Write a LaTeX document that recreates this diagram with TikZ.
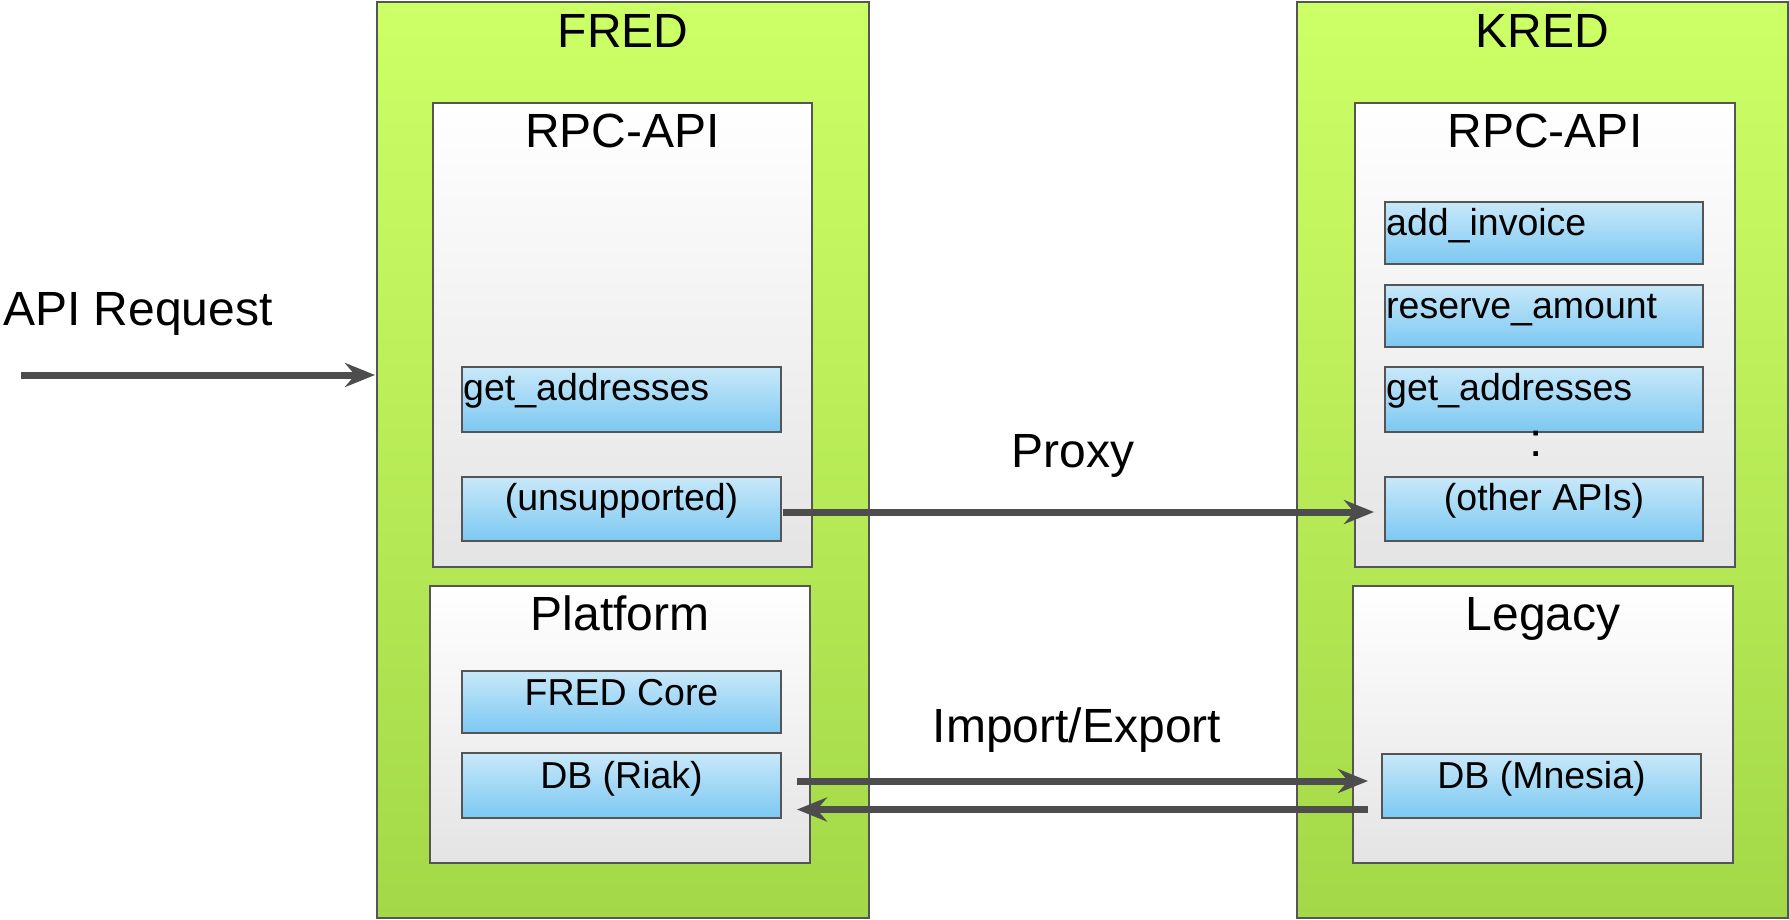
\documentclass[tikz,border=0pt]{standalone}
\usepackage{fontspec}
\setmainfont{Liberation Sans}
\usetikzlibrary{arrows.meta,calc}

\definecolor{limeTop}{RGB}{205,255,102}
\definecolor{limeBot}{RGB}{163,216,72}
\definecolor{greyTop}{RGB}{255,255,255}
\definecolor{greyBot}{RGB}{228,228,228}
\definecolor{blueTop}{RGB}{200,232,249}
\definecolor{blueBot}{RGB}{124,200,242}
\definecolor{edge}{RGB}{85,85,85}
\definecolor{wire}{RGB}{77,77,77}

\tikzset{
  box/.style={draw=edge, line width=2pt, inner sep=0pt, outer sep=0pt,
              anchor=north west, rectangle},
  system/.style={box, top color=limeTop, bottom color=limeBot},
  layer/.style={box, top color=greyTop, bottom color=greyBot},
  func/.style={box, top color=blueTop, bottom color=blueBot},
  big/.style={inner sep=0pt, anchor=base, font=\fontsize{48pt}{58pt}\selectfont},
  small/.style={inner sep=0pt, anchor=base, font=\fontsize{37.5pt}{45pt}\selectfont},
  smallleft/.style={small, anchor=base west},
  flow/.style={draw=wire, line width=7pt,
               -{Stealth[length=30pt, width=24pt, inset=10pt]}},
}

\begin{document}
\begin{tikzpicture}[x=1pt, y=-1pt]
\useasboundingbox (0,0) rectangle (1789,919);

% systems
\node[system, minimum width=492pt, minimum height=916pt] (fred) at (377,2) {};
\node[system, minimum width=491pt, minimum height=916pt] (kred) at (1297,2) {};
\node[big] (fredT) at (623,47) {FRED};
\node[big] (kredT) at (1542,47) {KRED};

% layers
\node[layer, minimum width=379pt, minimum height=464pt] (frpc) at (433,103) {};
\node[layer, minimum width=380pt, minimum height=277pt] (fplat) at (430,586) {};
\node[layer, minimum width=380pt, minimum height=464pt] (krpc) at (1355,103) {};
\node[layer, minimum width=380pt, minimum height=277pt] (kleg) at (1353,586) {};
\node[big] (frpcT) at (622.5,147) {RPC-API};
\node[big] (fplatT) at (620,630) {Platform};
\node[big] (krpcT) at (1545,147) {RPC-API};
\node[big] (klegT) at (1543,630) {Legacy};

% FRED functions
\node[func, minimum width=319pt, minimum height=65pt] (fget) at (462,367) {};
\node[func, minimum width=319pt, minimum height=64pt] (funsup) at (462,477) {};
\node[func, minimum width=319pt, minimum height=62pt] (fcore) at (462,671) {};
\node[func, minimum width=319pt, minimum height=65pt] (friak) at (462,753) {};
\node[smallleft] (fgetT) at (463,400) {get\_addresses};
\node[small] (funsupT) at (621.5,510) {(unsupported)};
\node[small] (fcoreT) at (621.5,705) {FRED Core};
\node[small] (friakT) at (621.5,788) {DB (Riak)};

% KRED functions
\node[func, minimum width=318pt, minimum height=62pt] (kadd) at (1385,202) {};
\node[func, minimum width=318pt, minimum height=62pt] (kres) at (1385,285) {};
\node[func, minimum width=318pt, minimum height=65pt] (kget) at (1385,367) {};
\node[func, minimum width=318pt, minimum height=64pt] (kother) at (1385,477) {};
\node[func, minimum width=319pt, minimum height=64pt] (kmnesia) at (1382,754) {};
\node[smallleft] (kaddT) at (1386,235) {add\_invoice};
\node[smallleft] (kresT) at (1386,318) {reserve\_amount};
\node[smallleft] (kgetT) at (1386,400) {get\_addresses};
\node[big] (kdots) at (1536,456) {:};
\node[small] (kotherT) at (1544,510) {(other APIs)};
\node[small] (kmnesiaT) at (1541.5,788) {DB (Mnesia)};

% connector labels
\node[big, anchor=base west] (reqT) at (3,325) {API Request};
\node[big] (proxyT) at (1073,467) {Proxy};
\node[big] (ieT) at (1077,742) {Import/Export};

% connectors
\coordinate (req) at (21,375);
\draw[flow, shorten >=2pt] (req) -- (req -| fred.west);
\draw[flow, shorten <=2pt, shorten >=11pt]
  ([yshift=-3pt]funsup.east) -- ([yshift=-3pt]funsup.east -| kother.west);
\draw[flow, shorten <=16pt, shorten >=14pt]
  ([yshift=4.5pt]friak.east) -- ([yshift=4.5pt]friak.east -| kmnesia.west);
\draw[flow, shorten <=14pt, shorten >=16pt]
  ([yshift=-23.5pt]kmnesia.west) -- ([yshift=-23.5pt]kmnesia.west -| friak.east);
\end{tikzpicture}
\end{document}
